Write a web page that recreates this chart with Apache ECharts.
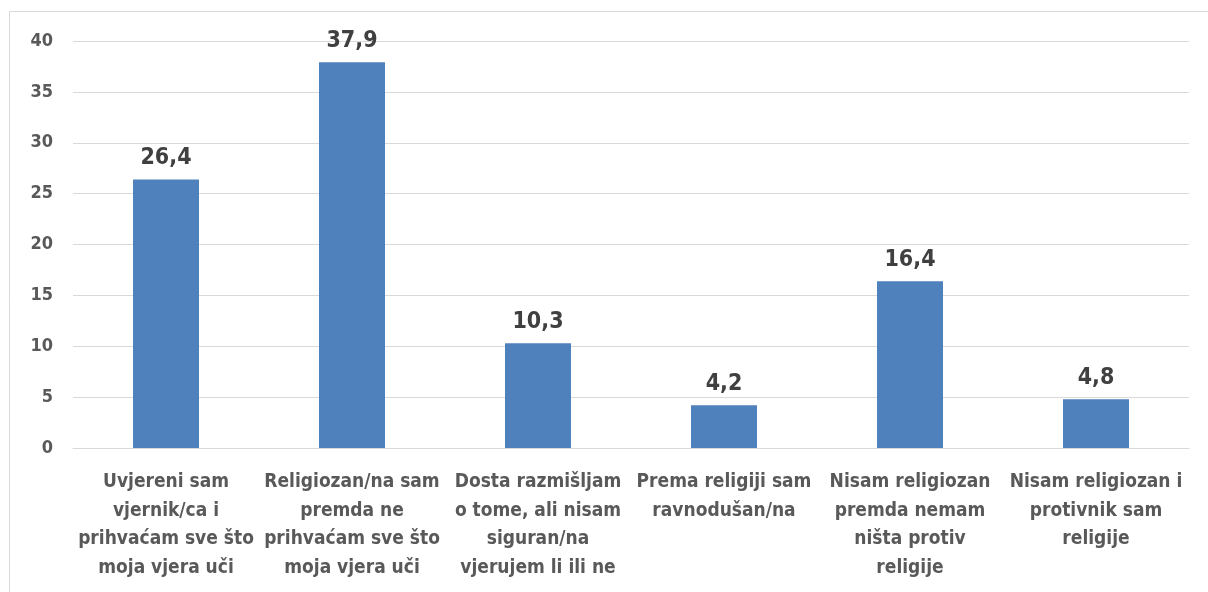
<!DOCTYPE html>
<html>
<head>
<meta charset="utf-8">
<script src="https://cdn.jsdelivr.net/npm/echarts@6/dist/echarts.min.js"></script>
<style>
  html, body { margin: 0; padding: 0; background: #fff; }
  #main { width: 1208px; height: 592px; }
</style>
</head>
<body>
<div id="main"></div>
<script>
var categories = [
    'Uvjereni sam\nvjernik/ca i\nprihvaćam sve što\nmoja vjera uči',
    'Religiozan/na sam\npremda ne\nprihvaćam sve što\nmoja vjera uči',
    'Dosta razmišljam\no tome, ali nisam\nsiguran/na\nvjerujem li ili ne',
    'Prema religiji sam\nravnodušan/na',
    'Nisam religiozan\npremda nemam\nništa protiv\nreligije',
    'Nisam religiozan i\nprotivnik sam\nreligije'
];
var values = [26.4, 37.9, 10.3, 4.2, 16.4, 4.8];
var yTicks = [0, 5, 10, 15, 20, 25, 30, 35, 40];

var font = "'Liberation Sans Narrow', 'DejaVu Sans Condensed', 'Roboto', sans-serif";

var myChart = echarts.init(document.getElementById('main'));
var option = {
    animation: false,
    graphic: [{
        type: 'rect',
        shape: { x: 9.5, y: 11.5, width: 1230, height: 620 },
        style: { fill: 'none', stroke: '#d9d9d9', lineWidth: 1 },
        silent: true
    }],
    grid: {
        left: 73,
        right: 19,
        top: 41,
        bottom: 144
    },
    xAxis: {
        type: 'category',
        data: categories,
        axisTick: { show: false },
        axisLine: { lineStyle: { color: '#d9d9d9', width: 1 } },
        axisLabel: {
            interval: 0,
            margin: 20,
            fontFamily: font,
            fontWeight: 'bold',
            fontSize: 19,
            lineHeight: 28.5,
            color: '#595959'
        }
    },
    yAxis: {
        type: 'value',
        min: yTicks[0],
        max: yTicks[yTicks.length - 1],
        interval: 5,
        axisLine: { show: false },
        axisTick: { show: false },
        splitLine: { lineStyle: { color: '#d9d9d9', width: 1 } },
        axisLabel: {
            margin: 20,
            fontFamily: font,
            fontWeight: 'bold',
            fontSize: 18,
            color: '#595959'
        }
    },
    series: [{
        type: 'bar',
        data: values,
        barWidth: 66,
        itemStyle: { color: '#4f81bd' },
        label: {
            show: true,
            position: 'top',
            distance: 10,
            fontFamily: font,
            fontWeight: 'bold',
            fontSize: 23,
            color: '#404040',
            formatter: function (p) {
                return String(p.value).replace('.', ',');
            }
        }
    }]
};
myChart.setOption(option);
</script>
</body>
</html>
